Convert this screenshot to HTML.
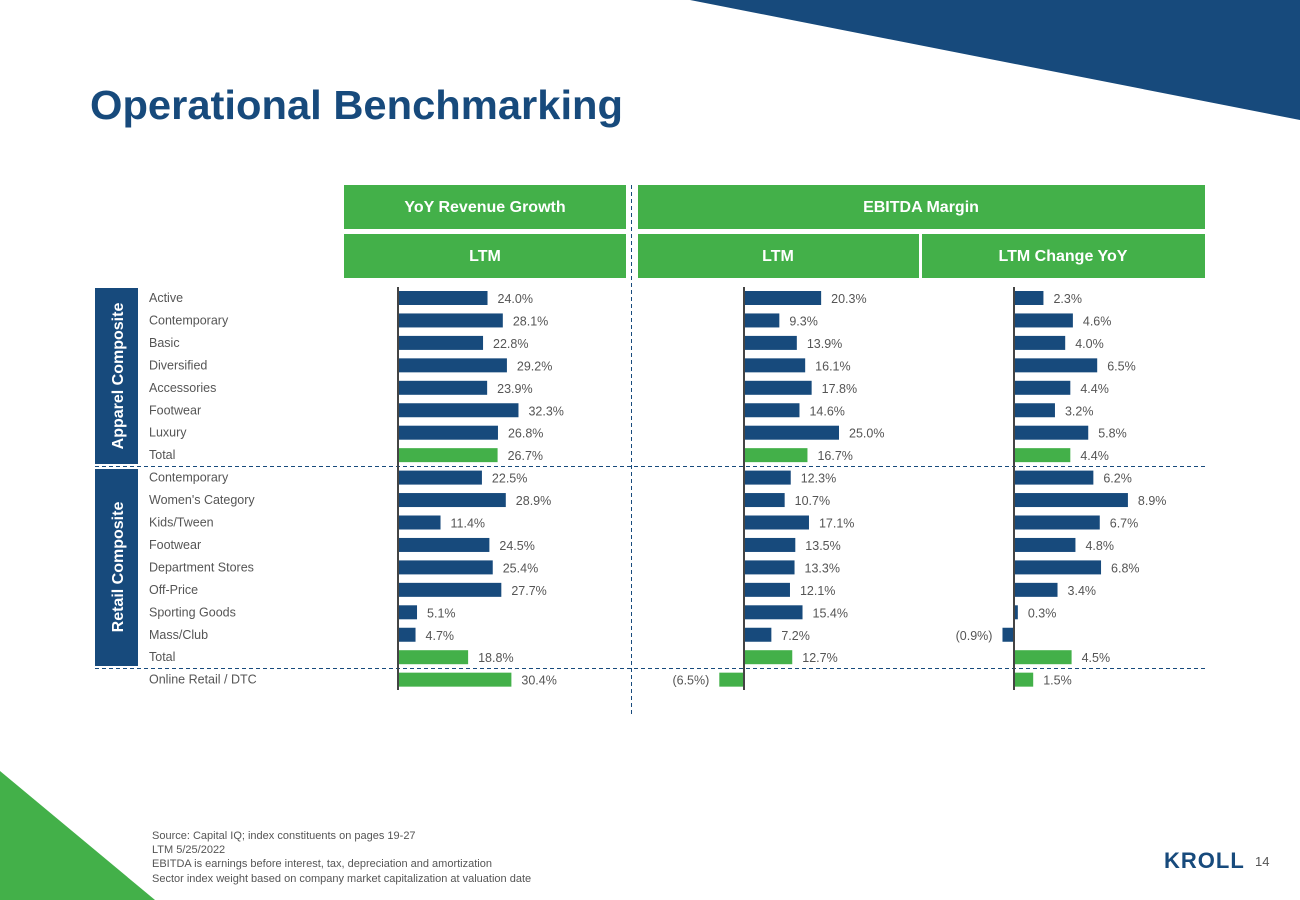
<!DOCTYPE html>
<html><head><meta charset="utf-8"><style>
body{margin:0;width:1300px;height:900px;overflow:hidden;background:#fff;font-family:"Liberation Sans",sans-serif}
svg{display:block}
</style></head><body>
<svg id="s" width="1300" height="900" xmlns="http://www.w3.org/2000/svg" font-family="Liberation Sans, sans-serif">
<polygon points="690,0 1300,0 1300,120" fill="#174a7c"/>
<polygon points="0,771 0,900 155,900" fill="#43b049"/>
<text x="90" y="119" font-size="41" font-weight="bold" fill="#174a7c" textLength="533" lengthAdjust="spacingAndGlyphs">Operational Benchmarking</text>
<g><rect x="344" y="185" width="282" height="44" fill="#43b049"/><text x="485" y="212" text-anchor="middle" fill="#fff" font-size="16" font-weight="bold">YoY Revenue Growth</text></g>
<g><rect x="638" y="185" width="567" height="44" fill="#43b049"/><text x="921" y="212" text-anchor="middle" fill="#fff" font-size="16" font-weight="bold">EBITDA Margin</text></g>
<g><rect x="344" y="234" width="282" height="44" fill="#43b049"/><text x="485" y="261" text-anchor="middle" fill="#fff" font-size="16" font-weight="bold">LTM</text></g>
<g><rect x="638" y="234" width="281" height="44" fill="#43b049"/><text x="778" y="261" text-anchor="middle" fill="#fff" font-size="16" font-weight="bold">LTM</text></g>
<g><rect x="922" y="234" width="283" height="44" fill="#43b049"/><text x="1063" y="261" text-anchor="middle" fill="#fff" font-size="16" font-weight="bold">LTM Change YoY</text></g>
<line x1="631.5" y1="185" x2="631.5" y2="714" stroke="#174a7c" stroke-dasharray="4,3"/>
<line x1="95" y1="466.5" x2="1205" y2="466.5" stroke="#174a7c" stroke-dasharray="4,3"/>
<line x1="95" y1="668.5" x2="1205" y2="668.5" stroke="#174a7c" stroke-dasharray="4,3"/>
<g><rect x="95" y="288" width="43" height="176" fill="#174a7c"/><text transform="translate(123,376) rotate(-90)" text-anchor="middle" fill="#fff" font-size="16" font-weight="bold">Apparel Composite</text></g>
<g><rect x="95" y="469" width="43" height="197" fill="#174a7c"/><text transform="translate(123,567) rotate(-90)" text-anchor="middle" fill="#fff" font-size="16" font-weight="bold">Retail Composite</text></g>
<g id="rows"></g>
<g font-size="11" fill="#555">
<text x="152" y="839">Source: Capital IQ; index constituents on pages 19-27</text>
<text x="152" y="853">LTM 5/25/2022</text>
<text x="152" y="867">EBITDA is earnings before interest, tax, depreciation and amortization</text>
<text x="152" y="882">Sector index weight based on company market capitalization at valuation date</text>
</g>
<text x="1164" y="868" font-size="22" font-weight="bold" fill="#174a7c" letter-spacing="1">KROLL</text>
<text x="1255" y="866" font-size="13" fill="#555">14</text>
</svg>
<script>
const categories=["Active","Contemporary","Basic","Diversified","Accessories","Footwear","Luxury","Total","Contemporary","Women's Category","Kids/Tween","Footwear","Department Stores","Off-Price","Sporting Goods","Mass/Club","Total","Online Retail / DTC"];
const revenueGrowth=[24.0,28.1,22.8,29.2,23.9,32.3,26.8,26.7,22.5,28.9,11.4,24.5,25.4,27.7,5.1,4.7,18.8,30.4];
const ebitdaMargin=[20.3,9.3,13.9,16.1,17.8,14.6,25.0,16.7,12.3,10.7,17.1,13.5,13.3,12.1,15.4,7.2,12.7,-6.5];
const marginChange=[2.3,4.6,4.0,6.5,4.4,3.2,5.8,4.4,6.2,8.9,6.7,4.8,6.8,3.4,0.3,-0.9,4.5,1.5];
const isTotal=[0,0,0,0,0,0,0,1,0,0,0,0,0,0,0,0,1,1];
const NS="http://www.w3.org/2000/svg",g=document.getElementById('rows');
const yRow=i=>298+i*22.45;
const charts=[{data:revenueGrowth,x0:398,k:3.73,name:'revenue-growth'},{data:ebitdaMargin,x0:744,k:3.8,name:'ebitda-margin'},{data:marginChange,x0:1014,k:12.8,name:'margin-change'}];
function mk(t,a){const e=document.createElementNS(NS,t);for(const k in a)e.setAttribute(k,a[k]);g.appendChild(e);return e;}
const fmt=v=>v<0?'('+Math.abs(v).toFixed(1)+'%)':v.toFixed(1)+'%';
categories.forEach((c,i)=>{
  const t=mk('text',{x:149,y:yRow(i)+4,'font-size':12.5,fill:'#555'});t.textContent=c;
  
  
});
charts.forEach(ch=>{
  ch.data.forEach((v,i)=>{
    const y=yRow(i),w=Math.abs(v)*ch.k,x=v<0?ch.x0-w:ch.x0;
    const r=mk('rect',{x:x,y:y-7,width:Math.max(w,1),height:14,fill:isTotal[i]?'#43b049':'#174a7c'});
    
    
    const t=mk('text',{x:v<0?x-10:x+w+10,y:y+5,'font-size':12.5,fill:'#555','text-anchor':v<0?'end':'start'});
    t.textContent=fmt(v);
    
    
  });
  const a=mk('line',{x1:ch.x0,y1:287,x2:ch.x0,y2:690,stroke:'#444','stroke-width':2});
  
  
});
</script>
</body></html>
